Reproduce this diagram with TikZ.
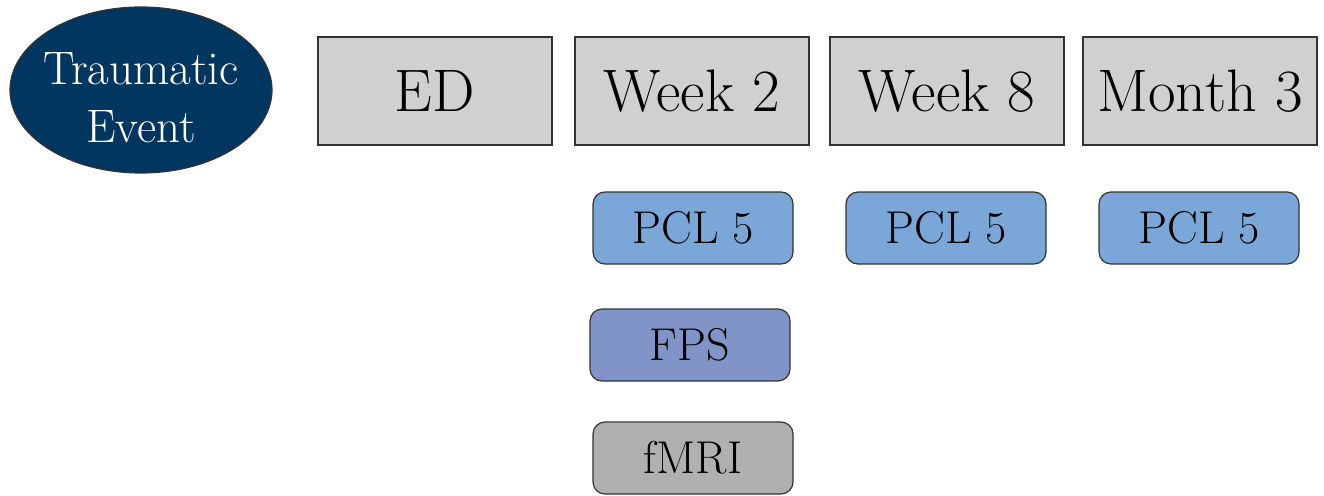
\documentclass[tikz,border=0pt]{standalone}
\usepackage{fontspec}
\usetikzlibrary{shapes.geometric}
\definecolor{navy}{RGB}{0,54,96}
\definecolor{boxgray}{RGB}{208,208,208}
\definecolor{pclblue}{RGB}{122,166,216}
\definecolor{fpsblue}{RGB}{128,148,200}
\definecolor{mrigray}{RGB}{176,176,176}
\begin{document}
\begin{tikzpicture}[x=1pt,y=-1pt,
    every node/.style={draw=black!80,line width=1.2pt,inner sep=0pt},
    timebox/.style={fill=boxgray,minimum width=234pt,minimum height=108pt,
      font=\fontsize{60}{66}\selectfont},
    taskbox/.style={rounded corners=12pt,minimum width=200pt,minimum height=72pt,
      font=\fontsize{46}{50}\selectfont}]
    \useasboundingbox (0,0) rectangle (1324,495);
    \node[ellipse,fill=navy,text=white,minimum width=262pt,minimum height=166pt,
      inner sep=-20pt,align=center,font=\fontsize{47}{58}\selectfont] (event) at (141,90)
      {\rule{0pt}{47pt}Traumatic\\Event};
    \node[timebox] (ed) at (435,91) {ED};
    \node[timebox] (week2) at (692,91) {Week 2};
    \node[timebox] (week8) at (947,91) {Week 8};
    \node[timebox] (month3) at (1200,91) {Month 3};
    \node[taskbox,fill=pclblue] (pcl2) at (693,228) {PCL 5};
    \node[taskbox,fill=pclblue] (pcl8) at (946,228) {PCL 5};
    \node[taskbox,fill=pclblue] (pcl3) at (1199,228) {PCL 5};
    \node[taskbox,fill=fpsblue] (fps) at (690,345) {FPS};
    \node[taskbox,fill=mrigray] (fmri) at (693,458) {fMRI};
\end{tikzpicture}
\end{document}
